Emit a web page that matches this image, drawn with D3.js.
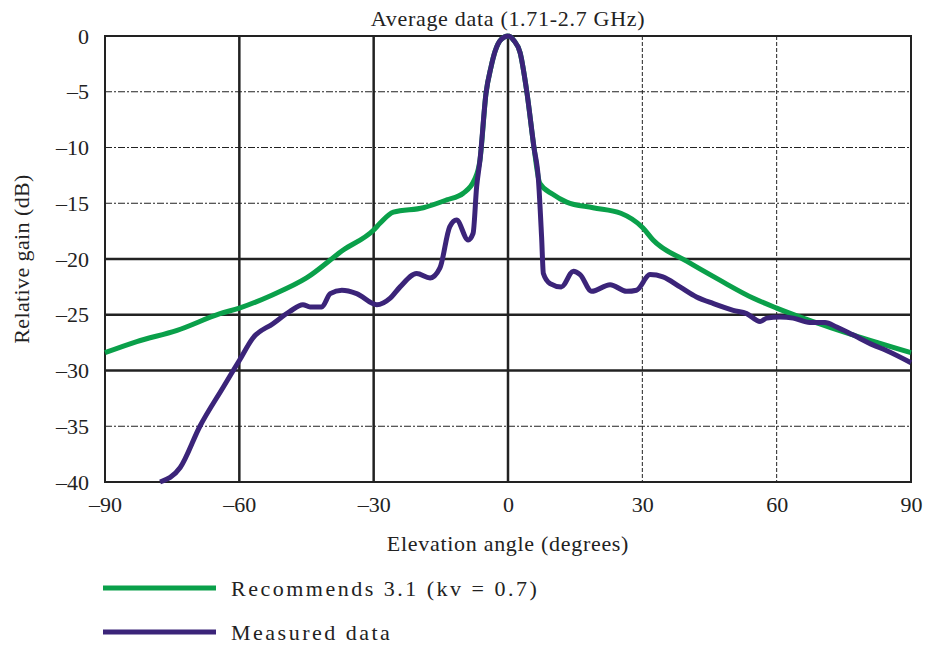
<!DOCTYPE html>
<html>
<head>
<meta charset="utf-8">
<script src="https://cdn.jsdelivr.net/npm/d3@7"></script>
<style>
  body { margin: 0; background: #fff; }
  svg text { font-family: "Liberation Serif", "Times New Roman", serif; fill: #222; }
</style>
</head>
<body>
<svg id="chart" width="927" height="648"></svg>
<script>
var xTicks = [-90, -60, -30, 0, 30, 60, 90];
var yTicks = [0, -5, -10, -15, -20, -25, -30, -35, -40];
var strongX = [-60, -30, 0];
var strongY = [-20, -25, -30];

// Recommends 3.1 (kv = 0.7)
var recAngle = [-90, -82.9, -73.9, -64.3, -60, -52.5, -45, -36.8, -30, -28.6, -25.6, -18.9, -13.7, -10, -7.5,
    -6.25, -4.9, -3.8, -2.9, -1.5, 0, 1.3, 2.7, 4.2, 5.8, 7.1, 10, 13.1, 19, 25.2, 30.1, 32.4, 39.9, 47.3, 54.7, 60, 65.9, 77, 90];
var recGain = [-28.4, -27.4, -26.4, -24.9, -24.4, -23.2, -21.7, -19.2, -17.4, -16.8, -15.8, -15.4, -14.7, -14.1, -12.9,
    -11.1, -5.1, -2.8, -1.4, -0.3, 0, -0.4, -1.5, -5.0, -10.0, -13.2, -14.2, -14.9, -15.4, -15.9, -17.2, -18.3, -20.2, -21.9, -23.5, -24.4, -25.3, -26.8, -28.4];

// Measured data
var measAngle = [-77.7, -73.2, -68.8, -63.6, -60, -57, -52.5, -48.7, -45.8, -44.2, -41.6, -39.7, -37.1, -33.8, -29.3,
    -26.3, -24.1, -20.4, -17.4, -15.2, -13, -11.5, -8.9, -7.8, -7.0, -6.25, -4.9, -3.8, -2.9, -1.5, 0,
    1.3, 2.7, 4.2, 5.8, 6.8, 7.5, 7.9, 9.4, 11.9, 14.6, 16.1, 18.7, 22.8, 26.5, 28.7, 31.7, 34.6, 38.4,
    42.1, 45.9, 50.3, 53.3, 56.3, 57.8, 60.7, 63.7, 67.4, 70.8, 73.4, 77, 81.5, 84.5, 90];
var measGain = [-40.0, -38.7, -35.0, -31.5, -29.1, -27.1, -25.8, -24.7, -24.1, -24.3, -24.3, -23.1, -22.8, -23.1, -24.1,
    -23.5, -22.5, -21.3, -21.7, -20.8, -17.1, -16.5, -18.3, -17.7, -13.5, -11.1, -5.1, -2.8, -1.4, -0.3, 0,
    -0.4, -1.5, -5.0, -10.0, -12.9, -18.0, -21.3, -22.2, -22.5, -21.1, -21.4, -22.9, -22.3, -22.9, -22.8, -21.4, -21.6, -22.5,
    -23.4, -24.0, -24.6, -24.9, -25.6, -25.3, -25.2, -25.3, -25.7, -25.7, -26.1, -26.8, -27.7, -28.2, -29.3];

(function() {
    var svg = d3.select('#chart'),
        plotLeft = 105, plotRight = 911, plotTop = 36, plotBottom = 482;

    var x = d3.scaleLinear().domain([-90, 90]).range([plotLeft, plotRight]);
    var y = d3.scaleLinear().domain([-40, 0]).range([plotBottom, plotTop]);

    function label(v) { return v < 0 ? '\u2013' + Math.abs(v) : String(v); }

    // grid
    var grid = svg.append('g');
    grid.selectAll('line.gx')
        .data(xTicks.filter(function(d) { return d > -90 && d < 90; }))
        .enter().append('line')
        .attr('x1', function(d) { return x(d); })
        .attr('x2', function(d) { return x(d); })
        .attr('y1', plotTop).attr('y2', plotBottom)
        .attr('stroke', '#222')
        .attr('stroke-width', function(d) { return strongX.indexOf(d) >= 0 ? 2.5 : 1; })
        .attr('stroke-dasharray', function(d) { return strongX.indexOf(d) >= 0 ? null : '4,2'; });

    grid.selectAll('line.gy')
        .data(yTicks.filter(function(d) { return d < 0 && d > -40; }))
        .enter().append('line')
        .attr('x1', plotLeft).attr('x2', plotRight)
        .attr('y1', function(d) { return y(d); })
        .attr('y2', function(d) { return y(d); })
        .attr('stroke', '#222')
        .attr('stroke-width', function(d) { return strongY.indexOf(d) >= 0 ? 2.5 : 1; })
        .attr('stroke-dasharray', function(d) { return strongY.indexOf(d) >= 0 ? null : '7,2,2,2'; });

    svg.append('rect')
        .attr('x', plotLeft).attr('y', plotTop)
        .attr('width', plotRight - plotLeft).attr('height', plotBottom - plotTop)
        .attr('fill', 'none')
        .attr('stroke', '#222')
        .attr('stroke-width', 2);

    // axes (labels only)
    var xAxis = svg.append('g')
        .attr('transform', 'translate(0,' + plotBottom + ')')
        .call(d3.axisBottom(x).tickValues(xTicks).tickSize(0).tickPadding(14).tickFormat(label));
    var yAxis = svg.append('g')
        .attr('transform', 'translate(' + plotLeft + ',0)')
        .call(d3.axisLeft(y).tickValues(yTicks).tickSize(0).tickPadding(16).tickFormat(label));
    [xAxis, yAxis].forEach(function(a) {
        a.select('.domain').remove();
        a.selectAll('text')
            .style('font-size', '22px')
            .style('font-family', '"Liberation Serif", serif')
            .attr('fill', '#222');
    });

    // curves
    var line = d3.line()
        .x(function(d) { return x(d[0]); })
        .y(function(d) { return y(d[1]); })
        .curve(d3.curveMonotoneX);

    svg.append('path')
        .datum(d3.zip(recAngle, recGain))
        .attr('d', line)
        .attr('fill', 'none')
        .attr('stroke', '#0aa04a')
        .attr('stroke-width', 5)
        .attr('stroke-linejoin', 'round');

    svg.append('path')
        .datum(d3.zip(measAngle, measGain))
        .attr('d', line)
        .attr('fill', 'none')
        .attr('stroke', '#3b2479')
        .attr('stroke-width', 5)
        .attr('stroke-linejoin', 'round');

    // titles
    svg.append('text')
        .attr('x', x(0)).attr('y', 26)
        .attr('text-anchor', 'middle')
        .style('font-size', '22px')
        .style('letter-spacing', '0.7px')
        .text('Average data (1.71-2.7 GHz)');

    svg.append('text')
        .attr('x', x(0)).attr('y', 551)
        .attr('text-anchor', 'middle')
        .style('font-size', '22px')
        .style('letter-spacing', '0.7px')
        .text('Elevation angle (degrees)');

    svg.append('text')
        .attr('transform', 'translate(29,' + ((plotTop + plotBottom) / 2) + ') rotate(-90)')
        .attr('text-anchor', 'middle')
        .style('font-size', '22px')
        .style('letter-spacing', '0.4px')
        .text('Relative gain (dB)');

    // legend
    var legend = [
        { name: 'Recommends 3.1 (kv = 0.7)', color: '#0aa04a' },
        { name: 'Measured data', color: '#3b2479' }
    ];
    var lg = svg.append('g').selectAll('g')
        .data(legend)
        .enter().append('g')
        .attr('transform', function(d, i) { return 'translate(103,' + (588 + i * 44) + ')'; });
    lg.append('line')
        .attr('x1', 0).attr('x2', 113)
        .attr('stroke', function(d) { return d.color; })
        .attr('stroke-width', 5);
    lg.append('text')
        .attr('x', 128).attr('y', 8)
        .style('font-size', '22px')
        .style('letter-spacing', '2.5px')
        .text(function(d) { return d.name; });
})();
</script>
</body>
</html>
